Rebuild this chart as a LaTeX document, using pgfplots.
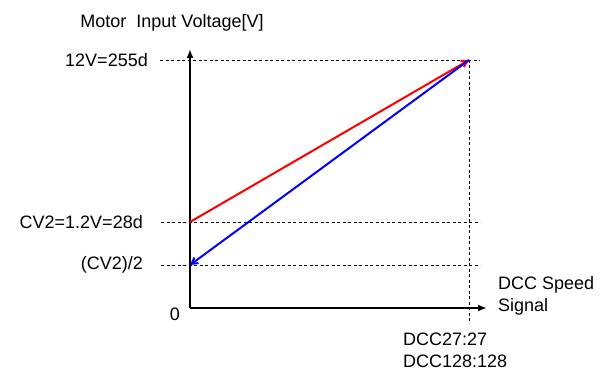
\documentclass[border=0pt]{standalone}
\usepackage{pgfplots}
\pgfplotsset{compat=1.18}
\usepackage{fontspec}
\setmainfont{Liberation Sans}
\usetikzlibrary{arrows.meta}
\tikzset{lbl/.style={font=\fontsize{18}{22}\selectfont}}
\begin{document}
\begin{tikzpicture}
\begin{axis}[
  x=1pt, y=1pt,
  xmin=-190, xmax=416, ymin=-75, ymax=308,
  axis line style={draw=none}, ticks=none,
  scale only axis, clip=false,
]
% dashed guide lines
\addplot[black, line width=0.8pt, dash pattern=on 3pt off 2.5pt] coordinates {(-30,248) (290,248)};
\addplot[black, line width=0.8pt, dash pattern=on 3pt off 2.5pt] coordinates {(-29,86) (290,86)};
\addplot[black, line width=0.8pt, dash pattern=on 3pt off 2.5pt] coordinates {(-29,43) (290,43)};
\addplot[black, line width=0.8pt, dash pattern=on 3pt off 2.5pt] coordinates {(279,248) (279,-13)};
% axes
\addplot[black, line width=1.9pt, -{Latex[length=9pt,width=7pt]}] coordinates {(0,0) (0,259)};
\addplot[black, line width=1.9pt, -{Latex[length=9pt,width=7pt]}] coordinates {(0,0) (297,0)};
% lines
\addplot[red, line width=2pt, -{Straight Barb[length=6pt,width=7pt]}] coordinates {(0,86) (279,248)};
\addplot[blue, line width=2pt, -{Straight Barb[length=6pt,width=7pt]}] coordinates {(279,248) (0,43)};
% labels
\node[lbl, anchor=center] at (axis cs:-18,285) {Motor\ \ Input Voltage[V]};
\node[lbl, anchor=east, inner sep=0pt] at (axis cs:-42,248) {12V=255d};
\node[lbl, anchor=east, inner sep=0pt] at (axis cs:-47,86) {CV2=1.2V=28d};
\node[lbl, anchor=east, inner sep=0pt] at (axis cs:-47,43) {(CV2)/2};
\node[lbl, anchor=center, inner sep=0pt] at (axis cs:-15,-6) {0};
\node[lbl, anchor=west, inner sep=0pt, align=left] at (axis cs:308,12) {DCC Speed\\Signal};
\node[lbl, anchor=west, inner sep=0pt, align=left] at (axis cs:213,-42) {DCC27:27\\DCC128:128};
\end{axis}
\pgfresetboundingbox
\useasboundingbox (current axis.south west) rectangle (current axis.north east);
\end{tikzpicture}
\end{document}
